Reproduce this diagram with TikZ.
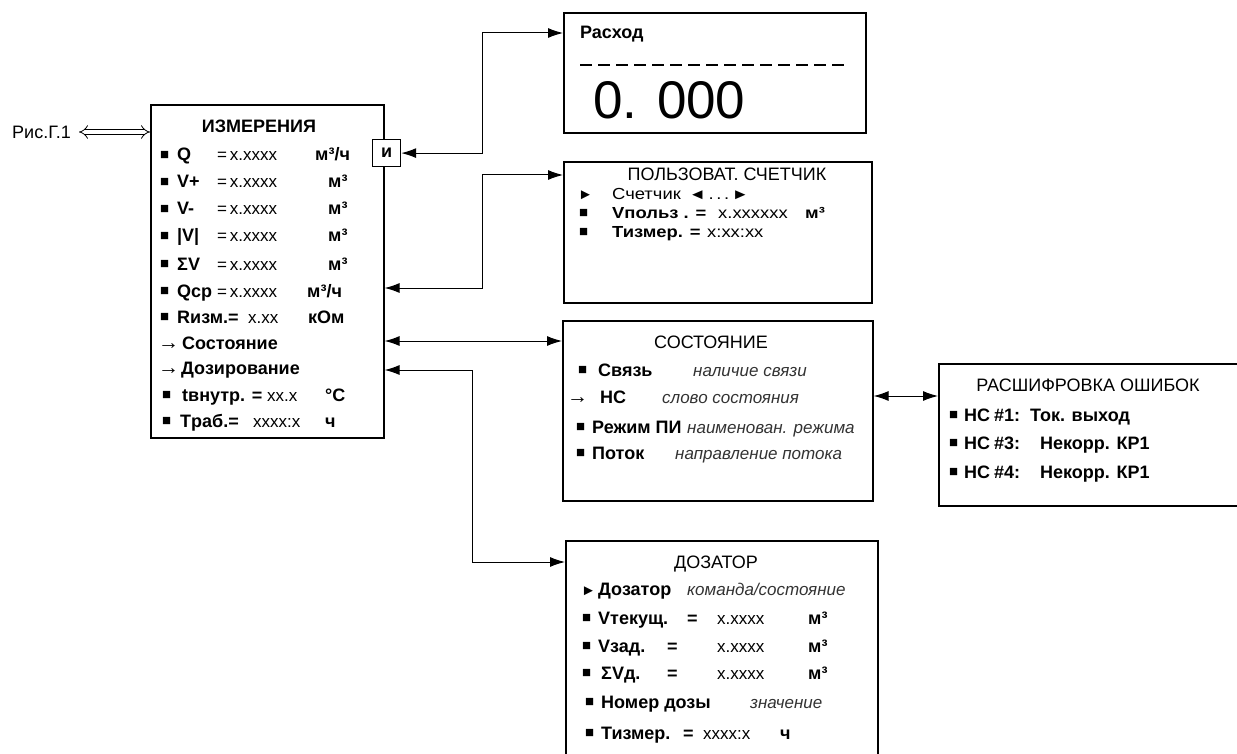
\documentclass[tikz,border=0pt]{standalone}
\usepackage{fontspec}
\setmainfont{Liberation Sans}
\newfontfamily\widesans{Liberation Sans}[FakeStretch=1.15]
\usetikzlibrary{arrows.meta}

\newcommand\smallsym[1]{{\fontsize{15}{15}\selectfont #1}}

\tikzset{
	box/.style={draw, line width=1.6pt, anchor=north west, inner sep=0pt},
	link/.style={line width=1pt, {Latex[length=15pt,width=10pt]}-{Latex[length=15pt,width=10pt]}},
	txt/.style={anchor=base west, inner sep=0pt, font=\fontsize{18}{20}\selectfont},
	lab/.style={txt, font=\fontsize{18}{20}\selectfont\bfseries},
	val/.style={txt, font=\fontsize{17}{20}\selectfont},
	note/.style={txt, font=\fontsize{17}{20}\selectfont\itshape, text=black!80},
	head/.style={txt, anchor=base},
	sm/.style={txt, font=\widesans\fontsize{16}{18}\selectfont},
	smb/.style={txt, font=\widesans\fontsize{16}{18}\selectfont\bfseries},
	blt/.style={txt, yshift=1.5pt, font=\fontsize{15}{15}\selectfont}, % bullet
	arr/.style={txt, font=\fontsize{21}{21}\selectfont\bfseries},
}

\begin{document}
\begin{tikzpicture}[x=1pt, y=-1pt]
	\path[fill=white, use as bounding box] (0,0) rectangle (1237,754);

	% main screen
	\node[box, minimum width=233pt, minimum height=333pt] (meas) at (150,104) {};
	\node[lab, anchor=base] (meas-t) at (259,133) {ИЗМЕРЕНИЯ};
	\foreach \n/\y/\lab/\unit/\ux in {q/161/Q/{м³/ч}/315, vp/188/V+/м³/328, vm/215/V-/м³/328, va/242/|V|/м³/328, sv/270/ΣV/м³/328, qs/297/Qср/{м³/ч}/307}{
		\node[blt] (\n-b) at (160,\y) {■};
		\node[lab] (\n-l) at (177,\y) {\lab};
		\node[val] (\n-v) at (217,\y) {=\,x.xxxx};
		\node[lab] (\n-u) at (\ux,\y) {\unit};
	}
	\node[blt] (rz-b) at (160,323) {■};
	\node[lab] (rz-l) at (177,323) {Rизм.=};
	\node[val] (rz-v) at (248,323) {x.xx};
	\node[lab] (rz-u) at (308,323) {кОм};
	\node[arr] (st-a) at (158,349) {→};
	\node[lab] (st-l) at (182,349) {Состояние};
	\node[arr] (dz-a) at (158,374) {→};
	\node[lab] (dz-l) at (181,374) {Дозирование};
	\node[blt] (tv-b) at (162,401) {■};
	\node[lab] (tv-l) at (182,401) {tвнутр. =};
	\node[val] (tv-v) at (267,401) {xx.x};
	\node[lab] (tv-u) at (325,401) {°C};
	\node[blt] (tr-b) at (162,427) {■};
	\node[lab] (tr-l) at (180,427) {Tраб.=};
	\node[val] (tr-v) at (253,427) {xxxx:x};
	\node[lab] (tr-u) at (325,427) {ч};

	\node[box, fill=white, line width=1.2pt, minimum width=28pt, minimum height=27pt, font=\fontsize{18}{20}\selectfont\bfseries] (ikey) at (372,139) {и};

	\node[txt, anchor=west] (ris) at (12,132) {Рис.Г.1};
	\draw[line width=0.8pt, double, double distance=4pt, {Implies}-{Implies}, shorten <=8pt] (ris.east) -- (meas.west |- ris.east);

	% flow
	\node[box, minimum width=302pt, minimum height=120pt] (rash) at (563,12) {};
	\node[lab] (rash-t) at (580,39) {Расход};
	\draw[line width=1.2pt, dash pattern=on 12pt off 6pt] (580,65) -- (845,65);
	\node[txt, font=\fontsize{53}{56}\selectfont] (rash-v) at (593,119) {0. 000};

	% user counter
	\node[box, minimum width=308pt, minimum height=141pt] (polz) at (563,161) {};
	\node[head] (polz-t) at (727,181) {ПОЛЬЗОВАТ. СЧЕТЧИК};
	\node[txt] (p1-b) at (578,200) {\smallsym{►}};
	\node[sm] (p1-l) at (612,200) {Счетчик\enspace\smallsym{◄}\,.\,.\,.\,\smallsym{►}};
	\node[blt] (p2-b) at (579,219) {■};
	\node[smb] (p2-l) at (612,219) {Vпольз . =};
	\node[sm] (p2-v) at (718,219) {x.xxxxxx};
	\node[smb] (p2-u) at (805,219) {м³};
	\node[blt] (p3-b) at (579,238) {■};
	\node[smb] (p3-l) at (612,238) {Тизмер. =};
	\node[sm] (p3-v) at (707,238) {x:xx:xx};

	% state
	\node[box, minimum width=310pt, minimum height=180pt] (stat) at (562,320) {};
	\node[head] (stat-t) at (711,348) {СОСТОЯНИЕ};
	\node[blt] (s1-b) at (578,376) {■};
	\node[lab] (s1-l) at (598,376) {Связь};
	\node[note] (s1-n) at (693,376) {наличие связи};
	\node[arr] (s2-a) at (567,403) {→};
	\node[lab] (s2-l) at (600,403) {НС};
	\node[note] (s2-n) at (662,403) {слово состояния};
	\node[blt] (s3-b) at (576,433) {■};
	\node[lab] (s3-l) at (592,433) {Режим ПИ};
	\node[note] (s3-n) at (687,433) {наименован. режима};
	\node[blt] (s4-b) at (576,459) {■};
	\node[lab] (s4-l) at (592,459) {Поток};
	\node[note] (s4-n) at (675,459) {направление потока};

	% errors
	\node[box, minimum width=320pt, minimum height=142pt] (err) at (938,363) {};
	\node[head] (err-t) at (1088,391) {РАСШИФРОВКА ОШИБОК};
	\foreach \n/\y/\code/\msg/\mx in {1/421/\#1:/Ток. выход/1030, 3/449/\#3:/Некорр. КР1/1040, 4/478/\#4:/Некорр. КР1/1040}{
		\node[blt] (e\n-b) at (949,\y) {■};
		\node[lab] (e\n-l) at (964,\y) {НС};
		\node[lab] (e\n-c) at (994,\y) {\code};
		\node[lab] (e\n-m) at (\mx,\y) {\msg};
	}

	% dosing
	\node[box, minimum width=312pt, minimum height=240pt] (doz) at (565,540) {};
	\node[head] (doz-t) at (716,568) {ДОЗАТОР};
	\node[txt] (d1-b) at (581,595) {\smallsym{►}};
	\node[lab] (d1-l) at (598,595) {Дозатор};
	\node[note] (d1-n) at (687,595) {команда/состояние};
	\foreach \n/\y/\lab/\ex/\lx in {2/624/Vтекущ./687/598, 3/652/Vзад./667/598, 4/679/ΣVд./667/601}{
		\node[blt] (d\n-b) at (582,\y) {■};
		\node[lab] (d\n-l) at (\lx,\y) {\lab};
		\node[lab] (d\n-e) at (\ex,\y) {=};
		\node[val] (d\n-v) at (717,\y) {x.xxxx};
		\node[lab] (d\n-u) at (808,\y) {м³};
	}
	\node[blt] (d5-b) at (585,708) {■};
	\node[lab] (d5-l) at (601,708) {Номер дозы};
	\node[note] (d5-n) at (750,708) {значение};
	\node[blt] (d6-b) at (585,739) {■};
	\node[lab] (d6-l) at (601,739) {Тизмер.};
	\node[lab] (d6-e) at (683,739) {=};
	\node[val] (d6-v) at (703,739) {xxxx:x};
	\node[lab] (d6-u) at (780,739) {ч};

	% connectors
	\coordinate (c1) at (482,33);
	\coordinate (c2) at (482,175);
	\coordinate (c2s) at (0,288);
	\coordinate (c3) at (0,341);
	\coordinate (c4) at (472,562);
	\coordinate (c4s) at (0,370);
	\coordinate (c5) at (0,396);
	\draw[link] (ikey.east) -| (c1) -- (c1 -| rash.west);
	\draw[link] (meas.east |- c2s) -| (c2) -- (c2 -| polz.west);
	\draw[link] (meas.east |- c3) -- (stat.west |- c3);
	\draw[link] (meas.east |- c4s) -| (c4) -- (c4 -| doz.west);
	\draw[link] (stat.east |- c5) -- (err.west |- c5);
\end{tikzpicture}
\end{document}
